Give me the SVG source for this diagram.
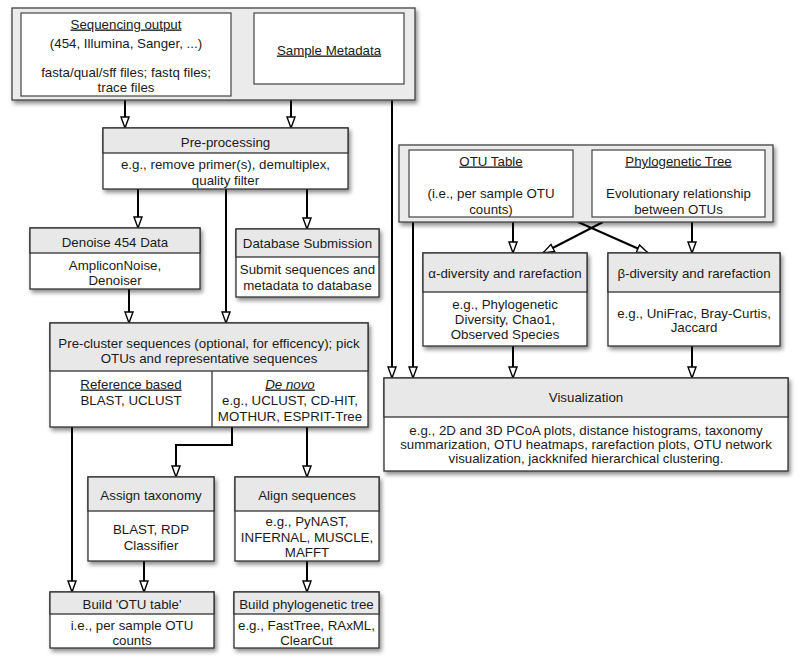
<svg xmlns="http://www.w3.org/2000/svg" width="800" height="665" viewBox="0 0 800 665">
<defs>
<filter id="sh" x="-10%" y="-10%" width="130%" height="140%">
<feDropShadow dx="2" dy="3" stdDeviation="2" flood-color="#000" flood-opacity="0.45"/>
</filter>
<marker id="ah" viewBox="0 0 13 10" refX="12" refY="5" markerWidth="13" markerHeight="10" markerUnits="userSpaceOnUse" orient="auto">
<path d="M1,1 L12,5 L1,9 Z" fill="#fff" stroke="#000" stroke-width="1.4"/>
</marker>
</defs>
<style>
text{font-family:"Liberation Sans",Arial,sans-serif;font-size:13.3px;fill:#1a1a1a;text-anchor:middle}
.u{text-decoration:underline}
.box{fill:#fff;stroke:#333;stroke-width:1.3;filter:url(#sh)}
.outer{fill:#ebebeb;stroke:#444;stroke-width:1.3;filter:url(#sh)}
.inner{fill:#fff;stroke:#444;stroke-width:1.2}
.hdr{fill:#e8e8e8;stroke:#333;stroke-width:1.3}
.ln{fill:none;stroke:#333;stroke-width:1.3}
.c{fill:none;stroke:#000;stroke-width:2;marker-end:url(#ah)}
</style>
<rect width="800" height="665" fill="#fff"/>

<g id="connectors">
<path class="c" d="M125,100 V128"/>
<path class="c" d="M291,100 V128"/>
<path class="c" d="M392,100 V378"/>
<path class="c" d="M138,189 V228"/>
<path class="c" d="M226,189 V323"/>
<path class="c" d="M307,189 V229"/>
<path class="c" d="M129,289 V323"/>
<path class="c" d="M72,427 V592"/>
<path class="c" d="M232,427 V445 H176 V477"/>
<path class="c" d="M307,427 V477"/>
<path class="c" d="M144,561 V592"/>
<path class="c" d="M307,561 V592"/>
<path class="c" d="M413,222 V378"/>
<path class="c" d="M513,222 V253"/>
<path class="c" d="M692,222 V253"/>
<path class="c" d="M603,222 L543,253"/>
<path class="c" d="M578,222 L648,253"/>
<path class="c" d="M513,346 V378"/>
<path class="c" d="M692,346 V378"/>
</g>

<g id="inputs">
<rect class="outer" x="12" y="8" width="403" height="92"/>
<g id="sequencing-output">
<rect class="inner" x="21" y="13" width="210" height="83"/>
<text x="126" y="28.5" class="u">Sequencing output</text>
<text x="126" y="47.5">(454, Illumina, Sanger, ...)</text>
<text x="126" y="76.5">fasta/qual/sff files; fastq files;</text>
<text x="126" y="91.5">trace files</text>
</g>
<g id="sample-metadata">
<rect class="inner" x="254" y="13" width="150" height="71"/>
<text x="329" y="54.5" class="u">Sample Metadata</text>
</g>
</g>

<g id="preprocessing">
<rect class="box" x="103" y="128" width="245" height="61"/>
<rect class="hdr" x="103" y="128" width="245" height="25"/>
<text x="225.5" y="146.5">Pre-processing</text>
<text x="225.5" y="168.5">e.g., remove primer(s), demultiplex,</text>
<text x="225.5" y="184.5">quality filter</text>
</g>

<g id="denoise">
<rect class="box" x="30" y="228" width="170" height="61"/>
<rect class="hdr" x="30" y="228" width="170" height="25"/>
<text x="115" y="246.5">Denoise 454 Data</text>
<text x="115" y="269.5">AmpliconNoise,</text>
<text x="115" y="284.5">Denoiser</text>
</g>

<g id="database-submission">
<rect class="box" x="236" y="229" width="143" height="68"/>
<rect class="hdr" x="236" y="229" width="143" height="28"/>
<text x="307.5" y="247.5">Database Submission</text>
<text x="307.5" y="273.5">Submit sequences and</text>
<text x="307.5" y="289.5">metadata to database</text>
</g>

<g id="pre-cluster">
<rect class="box" x="50" y="323" width="318" height="104"/>
<rect class="hdr" x="50" y="323" width="318" height="48"/>
<line class="ln" x1="212" y1="371" x2="212" y2="427"/>
<text x="209" y="347.5">Pre-cluster sequences (optional, for efficency); pick</text>
<text x="209" y="362.5">OTUs and representative sequences</text>
<text x="131" y="388.5" class="u">Reference based</text>
<text x="131" y="404.5">BLAST, UCLUST</text>
<text x="290" y="388.5" class="u" font-style="italic">De novo</text>
<text x="290" y="404.5">e.g., UCLUST, CD-HIT,</text>
<text x="290" y="420.5">MOTHUR, ESPRIT-Tree</text>
</g>

<g id="assign-taxonomy">
<rect class="box" x="88" y="477" width="126" height="84"/>
<rect class="hdr" x="88" y="477" width="126" height="34"/>
<text x="151" y="499.5">Assign taxonomy</text>
<text x="151" y="533.5">BLAST, RDP</text>
<text x="151" y="549.5">Classifier</text>
</g>

<g id="align-sequences">
<rect class="box" x="235" y="477" width="144" height="84"/>
<rect class="hdr" x="235" y="477" width="144" height="34"/>
<text x="307" y="499.5">Align sequences</text>
<text x="307" y="525.5">e.g., PyNAST,</text>
<text x="307" y="541.5">INFERNAL, MUSCLE,</text>
<text x="307" y="556.5">MAFFT</text>
</g>

<g id="build-otu-table">
<rect class="box" x="50" y="592" width="164" height="56"/>
<rect class="hdr" x="50" y="592" width="164" height="22"/>
<text x="132" y="608.5">Build 'OTU table'</text>
<text x="132" y="629.5">i.e., per sample OTU</text>
<text x="132" y="644.5">counts</text>
</g>

<g id="build-phylogenetic-tree">
<rect class="box" x="234" y="592" width="145" height="56"/>
<rect class="hdr" x="234" y="592" width="145" height="22"/>
<text x="306.5" y="608.5">Build phylogenetic tree</text>
<text x="306.5" y="629.5">e.g., FastTree, RAxML,</text>
<text x="306.5" y="644.5">ClearCut</text>
</g>

<g id="analysis-inputs">
<rect class="outer" x="399" y="145" width="374" height="77"/>
<g id="otu-table">
<rect class="inner" x="409" y="150" width="164" height="67"/>
<text x="491" y="165.5" class="u">OTU Table</text>
<text x="491" y="197.5">(i.e., per sample OTU</text>
<text x="491" y="213.5">counts)</text>
</g>
<g id="phylogenetic-tree">
<rect class="inner" x="592" y="150" width="173" height="67"/>
<text x="678.5" y="165.5" class="u">Phylogenetic Tree</text>
<text x="678.5" y="197.5">Evolutionary relationship</text>
<text x="678.5" y="213.5">between OTUs</text>
</g>
</g>

<g id="alpha-diversity">
<rect class="box" x="423" y="253" width="164" height="93"/>
<rect class="hdr" x="423" y="253" width="164" height="39"/>
<text x="505" y="277.5">α-diversity and rarefaction</text>
<text x="505" y="308.5">e.g., Phylogenetic</text>
<text x="505" y="323.5">Diversity, Chao1,</text>
<text x="505" y="338.5">Observed Species</text>
</g>

<g id="beta-diversity">
<rect class="box" x="608" y="253" width="172" height="93"/>
<rect class="hdr" x="608" y="253" width="172" height="39"/>
<text x="694" y="277.5">β-diversity and rarefaction</text>
<text x="694" y="317.5">e.g., UniFrac, Bray-Curtis,</text>
<text x="694" y="331.5">Jaccard</text>
</g>

<g id="visualization">
<rect class="box" x="384" y="378" width="404" height="93"/>
<rect class="hdr" x="384" y="378" width="404" height="39"/>
<text x="586" y="401.5">Visualization</text>
<text x="586" y="434.5">e.g., 2D and 3D PCoA plots, distance histograms, taxonomy</text>
<text x="586" y="448.5">summarization, OTU heatmaps, rarefaction plots, OTU network</text>
<text x="586" y="462.5">visualization, jackknifed hierarchical clustering.</text>
</g>
</svg>
